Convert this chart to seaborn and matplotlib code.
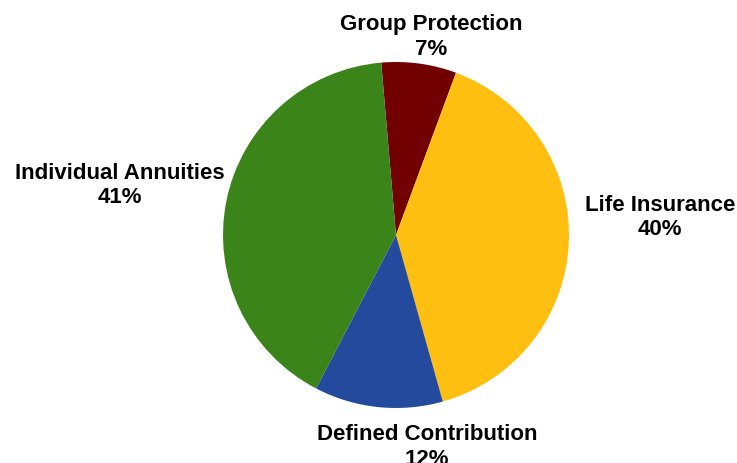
import matplotlib
matplotlib.use("Agg")
import matplotlib.pyplot as plt
import seaborn as sns

categories = ["Group Protection", "Life Insurance", "Defined Contribution", "Individual Annuities"]
shares = [7, 40, 12, 41]
colors = ["#730000", "#FFBF10", "#234A9C", "#3B841A"]
# label block centres in units of pie radius
label_pos = [(0.202, 1.150), (1.526, 0.109), (0.179, -1.220), (-1.595, 0.294)]

sns.set_theme(style="white")
plt.rcParams['font.family'] = ['Liberation Sans', 'DejaVu Sans']

fig = plt.figure(figsize=(7.37, 4.64), dpi=100)
ax = fig.add_axes([0, 0, 1, 1])
ax.pie(shares, colors=colors, startangle=94.9, counterclock=False,
       wedgeprops=dict(linewidth=0))
for cat, val, (x, y) in zip(categories, shares, label_pos):
    ax.text(x, y, f"{cat}\n{val}%", ha="center", va="center", fontsize=16,
            fontweight="bold", color="black", linespacing=1.2)

ax.set_aspect("auto")
ax.set_xlim(-396 / 173, (737 - 396) / 173)
ax.set_ylim(-(464 - 236) / 173, 236 / 173)
ax.axis("off")
fig.savefig("out.png", dpi=100, facecolor="white")
